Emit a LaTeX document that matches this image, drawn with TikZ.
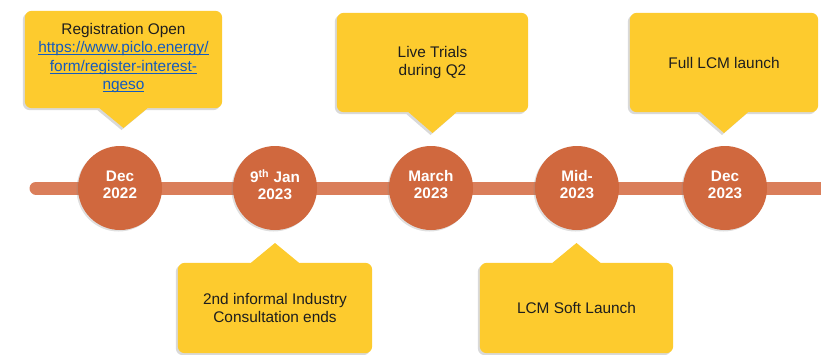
\documentclass[tikz,border=0pt]{standalone}
\usepackage{fontspec}
\setmainfont{Liberation Sans}
\usetikzlibrary{shadows, backgrounds}

\definecolor{callyellow}{RGB}{253,203,46}
\definecolor{dotorange}{RGB}{208,104,62}
\definecolor{barorange}{RGB}{218,126,90}
\definecolor{linkblue}{RGB}{20,90,190}
\definecolor{textdark}{RGB}{30,30,30}

% speech bubble round a node: name, tail side, other side, tip
\newcommand{\bubble}[4]{%
  \fill[bubblefill] (#1.west) [rounded corners=7pt] -- (#1.#3 west) -- (#1.#3 east)
    -- (#1.#2 east) -- ([xshift=48pt]#1.#2) [sharp corners] -- ([xshift=24pt]#1.#2)
    -- (#4) -- ([xshift=-24pt]#1.#2) -- ([xshift=-48pt]#1.#2)
    [rounded corners=7pt] -- (#1.#2 west) -- cycle;}
\newcommand{\weblink}[1]{\textcolor{linkblue}{\underline{\smash{#1}}}}

\begin{document}
\begin{tikzpicture}[
    x=1pt, y=-1pt,
    font=\fontsize{15.4}{18.5}\selectfont,
    milestone/.style={circle, fill=dotorange, minimum size=84pt, inner sep=0pt,
        text=white, align=center, font=\fontsize{15.3}{17}\selectfont\bfseries,
        text depth=7pt,
        drop shadow={shadow xshift=-1.5pt, shadow yshift=-1.5pt, opacity=0.25}},
    callbox/.style={rectangle, align=center, text=textdark, inner sep=2pt},
    bubblefill/.style={callyellow,
        drop shadow={shadow xshift=-2pt, shadow yshift=-2pt, opacity=0.3}},
    bar/.style={line width=13pt, barorange, line cap=round}
]
\useasboundingbox (0,0) rectangle (821,354);

% Timeline bar
\coordinate (barL) at (36,188);
\coordinate (barR) at (830,188);
\draw[bar] (barL) -- (barR);

% Milestones
\node[milestone] (dec22) at (120,188) {Dec\\2022};
\node[milestone] (jan23) at (275,188) {9\textsuperscript{th} Jan\\2023};
\node[milestone] (mar23) at (431,188) {March\\2023};
\node[milestone] (mid23) at (577,188) {Mid-\\2023};
\node[milestone] (dec23) at (725,188) {Dec\\2023};

% Boxes above the line
\node[callbox, minimum width=197pt, minimum height=97pt, text depth=6pt] (reg) at (123.5,59.5)
    {Registration Open\\
     \weblink{https://www.piclo.energy/}\\
     \weblink{form/register-interest-}\\
     \weblink{ngeso}};
\node[callbox, minimum width=191pt, minimum height=99pt] (trials) at (432.5,62.5)
    {Live Trials\\during Q2};
\node[callbox, minimum width=188pt, minimum height=99pt] (full) at (724,62.5)
    {Full LCM launch};

% Boxes below the line
\node[callbox, minimum width=194pt, minimum height=90pt] (consult) at (275,308)
    {2nd informal Industry\\Consultation ends};
\node[callbox, minimum width=193pt, minimum height=90pt] (soft) at (576.5,308)
    {LCM Soft Launch};

% Tail tips
\coordinate (regtip) at (123.5,128);
\coordinate (trialstip) at (432.5,133);
\coordinate (fulltip) at (724,133);
\coordinate (consulttip) at (275,243);
\coordinate (softtip) at (576.5,243);

% Bubbles behind the texts
\begin{scope}[on background layer]
  \bubble{reg}{south}{north}{regtip}
  \bubble{trials}{south}{north}{trialstip}
  \bubble{full}{south}{north}{fulltip}
  \bubble{consult}{north}{south}{consulttip}
  \bubble{soft}{north}{south}{softtip}
\end{scope}

\end{tikzpicture}
\end{document}
